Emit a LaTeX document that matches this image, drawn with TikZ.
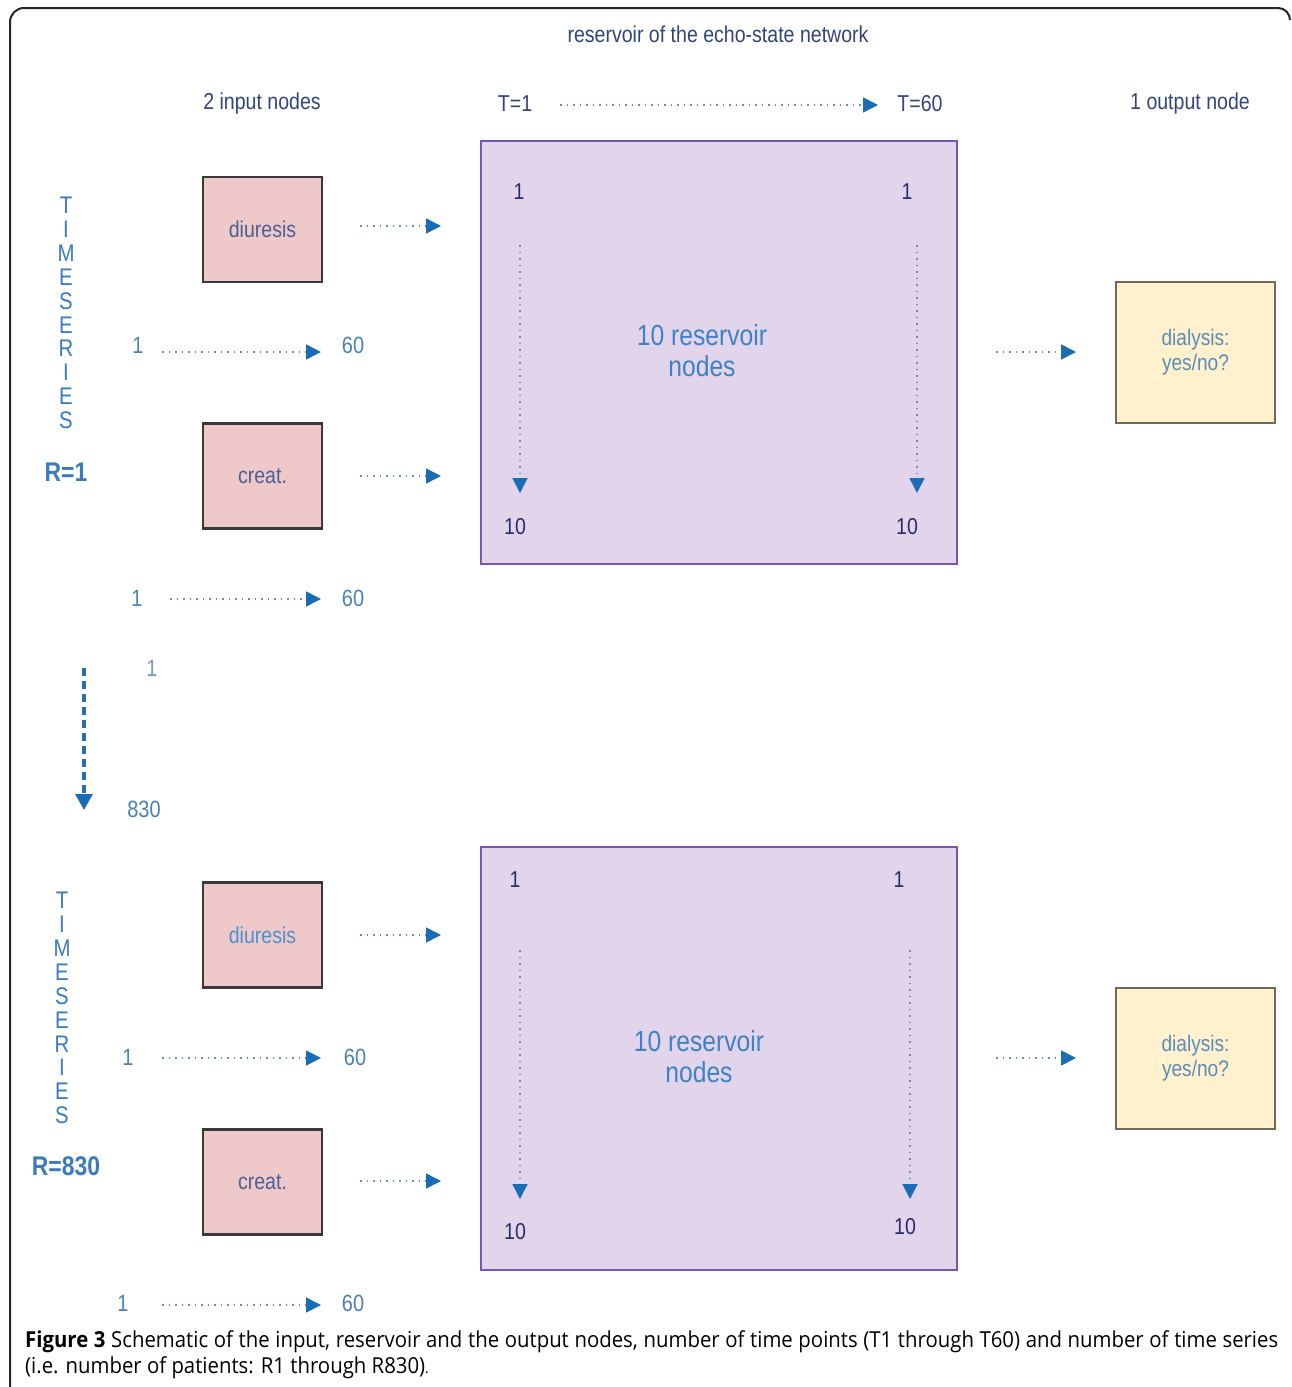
\documentclass[tikz,border=0pt]{standalone}
\usepackage{fontspec}
\setmainfont{Liberation Sans}
\newfontfamily\labf{Liberation Sans}[FakeStretch=0.85]
\newfontfamily\capf{Open Sans}[FakeStretch=0.925]
\usetikzlibrary{arrows.meta}
\definecolor{hdr}{HTML}{33447A}
\definecolor{boxline}{HTML}{3A3838}
\definecolor{pinkfill}{HTML}{EFC9C9}
\definecolor{resfill}{HTML}{E2D4EB}
\definecolor{resline}{HTML}{7656B0}
\definecolor{outfill}{HTML}{FFF0CE}
\definecolor{outline}{HTML}{6E6A5C}
\definecolor{arrowcol}{HTML}{1A6DB5}
\definecolor{dotcol}{HTML}{6F8BB5}
\definecolor{lblue}{HTML}{4A82B8}
\definecolor{resnum}{HTML}{2B2B6B}
\definecolor{resname}{HTML}{3C82C4}
\definecolor{outtxt}{HTML}{5B8DB8}
\definecolor{tsblue}{HTML}{3A7BC0}
\definecolor{indark}{HTML}{4A5F95}
\definecolor{inlight}{HTML}{4A90D0}
\tikzset{
  lbl/.style={font=\labf\fontsize{23}{26}\selectfont, inner sep=0pt, text=hdr},
  inbox/.style={draw=boxline, fill=pinkfill, line width=2.2pt, minimum width=119pt, minimum height=105pt, inner sep=0pt, font=\labf\fontsize{23}{26}\selectfont},
  resbox/.style={draw=resline, fill=resfill, line width=2.4pt, minimum width=476pt, minimum height=423pt, inner sep=0pt},
  outbox/.style={draw=outline, fill=outfill, line width=2.2pt, minimum width=159pt, minimum height=141pt, inner sep=0pt, align=center, text=outtxt, font=\labf\fontsize{22.5}{25}\selectfont},
  dotarrow/.style={draw=dotcol, line width=1.5pt, dash pattern=on 1.5pt off 5pt, -{Triangle[length=15pt,width=15pt,color=arrowcol]}},
  dasharrow/.style={draw=arrowcol!85!gray, line width=3.2pt, dash pattern=on 8pt off 5pt, -{Triangle[length=16pt,width=17pt,color=arrowcol]}},
  tsletters/.style={font=\labf\fontsize{24}{23.9}\selectfont, text=tsblue, align=center, inner sep=0pt},
  rlabel/.style={font=\labf\fontsize{27}{30}\selectfont\bfseries, text=tsblue, inner sep=0pt},
  numl/.style={font=\labf\fontsize{23.5}{26}\selectfont, text=lblue, inner sep=0pt},
  resn/.style={font=\labf\fontsize{23}{26}\selectfont, text=resnum, inner sep=0pt},
  resname/.style={font=\labf\fontsize{29}{31}\selectfont, text=resname, align=center, inner sep=0pt}
}
\begin{document}
\begin{tikzpicture}[x=1pt,y=-1pt]
\useasboundingbox (0,0) rectangle (1292,1387);
\fill[white] (0,0) rectangle (1292,1387);
% frame
\draw[line width=2pt, black!85] (10,1387) -- (10,22) arc[start angle=180,end angle=270,radius=14] -- (1278,8) arc[start angle=270,end angle=360,radius=12];

% header
\node[lbl] (hres) at (718,34) {reservoir of the echo-state network};
\node[lbl] (hin) at (262,104) {2 input nodes};
\node[lbl] (t1) at (515,104) {T=1};
\node[lbl] (t60) at (920,104) {T=60};
\node[lbl] (hout) at (1190,104) {1 output node};
\coordinate (ts) at (560,105);
\coordinate (te) at (878,105);
\draw[dotarrow] (ts) -- (te);

% ===== top panel =====
\node[inbox, text=indark] (diu1) at (262.5,229.5) {diuresis};
\node[inbox, text=indark] (cre1) at (262.5,476) {creat.};
\node[resbox] (res1) at (719,352.5) {};
\node[outbox] (out1) at (1195.5,352.5) {dialysis:\\yes/no?};
\node[resname] (rn1) at (702,351) {10 reservoir\\nodes};

\coordinate (d1s) at (360,226); \coordinate (d1e) at (441,226);
\coordinate (c1s) at (360,476); \coordinate (c1e) at (441,476);
\draw[dotarrow] (d1s) -- (d1e);
\draw[dotarrow] (c1s) -- (c1e);

\node[numl] (o1a) at (138,345) {1};
\node[numl] (o1b) at (353,345) {60};
\coordinate (o1s) at (162,352); \coordinate (o1e) at (321,352);
\draw[dotarrow] (o1s) -- (o1e);

\node[resn] (r1a) at (519,192) {1};
\node[resn] (r1b) at (907,192) {1};
\node[resn] (r1c) at (515,527) {10};
\node[resn] (r1d) at (907,527) {10};
\coordinate (v1s) at (520,245); \coordinate (v1e) at (520,493);
\coordinate (w1s) at (917,245); \coordinate (w1e) at (917,493);
\draw[dotarrow] (v1s) -- (v1e);
\draw[dotarrow] (w1s) -- (w1e);

\coordinate (x1s) at (996,352); \coordinate (x1e) at (1076,352);
\draw[dotarrow] (x1s) -- (x1e);

\node[tsletters] (ts1) at (66,313) {T\\I\\M\\E\\S\\E\\R\\I\\E\\S};
\node[rlabel] (R1) at (66,472) {R=1};

\node[numl] (p1a) at (137,598) {1};
\node[numl] (p1b) at (353,598) {60};
\coordinate (p1s) at (170,599); \coordinate (p1e) at (321,599);
\draw[dotarrow] (p1s) -- (p1e);

% patients arrow
\node[numl, text=lblue!80] (pa) at (152,668) {1};
\node[numl] (pb) at (144,809) {830};
\coordinate (qs) at (84,668); \coordinate (qe) at (84,810);
\draw[dasharrow] (qs) -- (qe);

% ===== bottom panel =====
\node[inbox, text=inlight] (diu2) at (262.5,935) {diuresis};
\node[inbox, text=indark] (cre2) at (262.5,1182) {creat.};
\node[resbox] (res2) at (719,1058.5) {};
\node[outbox] (out2) at (1195.5,1058.5) {dialysis:\\yes/no?};
\node[resname] (rn2) at (699,1057) {10 reservoir\\nodes};

\coordinate (d2s) at (360,935); \coordinate (d2e) at (441,935);
\coordinate (c2s) at (360,1181); \coordinate (c2e) at (441,1181);
\draw[dotarrow] (d2s) -- (d2e);
\draw[dotarrow] (c2s) -- (c2e);

\node[numl] (o2a) at (128,1057) {1};
\node[numl] (o2b) at (355,1057) {60};
\coordinate (o2s) at (162,1058); \coordinate (o2e) at (321,1058);
\draw[dotarrow] (o2s) -- (o2e);

\node[resn] (r2a) at (515,880) {1};
\node[resn] (r2b) at (899,880) {1};
\node[resn] (r2c) at (515,1232) {10};
\node[resn] (r2d) at (905,1227) {10};
\coordinate (v2s) at (520,950); \coordinate (v2e) at (520,1199);
\coordinate (w2s) at (910,950); \coordinate (w2e) at (910,1199);
\draw[dotarrow] (v2s) -- (v2e);
\draw[dotarrow] (w2s) -- (w2e);

\coordinate (x2s) at (996,1058); \coordinate (x2e) at (1076,1058);
\draw[dotarrow] (x2s) -- (x2e);

\node[tsletters] (ts2) at (62,1008) {T\\I\\M\\E\\S\\E\\R\\I\\E\\S};
\node[rlabel] (R2) at (66,1166) {R=830};

\node[numl] (p2a) at (123,1303) {1};
\node[numl] (p2b) at (353,1303) {60};
\coordinate (p2s) at (162,1305); \coordinate (p2e) at (321,1305);
\draw[dotarrow] (p2s) -- (p2e);

% caption
\node[anchor=north west, inner sep=0pt, text width=1253pt, align=justify,
      font=\capf\fontsize{22}{26}\selectfont] (cap) at (25,1330)
  {\textbf{Figure 3} Schematic of the input, reservoir and the output nodes, number of time points (T1 through T60) and number of time series (i.e. number of patients: R1 through R830){\fontsize{15}{26}\selectfont.}};
\end{tikzpicture}
\end{document}
